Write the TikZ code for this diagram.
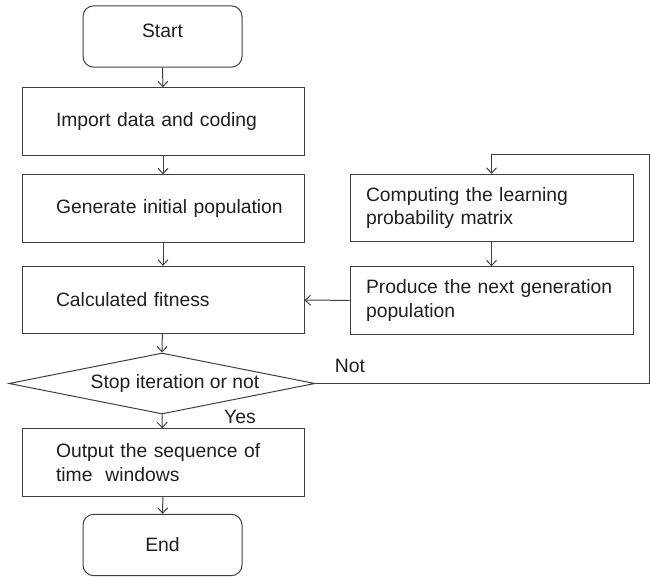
\documentclass[tikz,border=0pt]{standalone}
\usepackage{fontspec}
\setmainfont{Liberation Sans}
\usetikzlibrary{shapes.geometric,arrows.meta}
\definecolor{linegray}{HTML}{404040}
\definecolor{textgray}{HTML}{1E1E1E}
\begin{document}
\begin{tikzpicture}[x=0.75pt,y=-0.75pt,
  every node/.style={font=\fontsize{14.5}{17.5}\selectfont,text=textgray},
  flow/.style={draw=linegray,line width=.75pt},
  arr/.style={flow,-{Straight Barb[length=4pt,width=7.5pt]}},
  term/.style={flow,rectangle,rounded corners=8pt,minimum width=119.25pt,minimum height=46pt,inner sep=0pt},
  lbox/.style={flow,rectangle,minimum width=211.5pt,minimum height=50.5pt,inner xsep=4pt,text width=203.5pt,align=left,execute at begin node={\leftskip=21.5pt}},
  rbox/.style={flow,rectangle,minimum width=212.25pt,minimum height=50.5pt,inner xsep=4pt,text width=204.25pt,align=left,execute at begin node={\leftskip=8pt}},
  test/.style={flow,diamond,aspect=5,inner sep=0pt,minimum width=229.5pt,minimum height=45.75pt}]
\useasboundingbox (0,0) rectangle (651,577);
% main column
\node[term] (start) at (162.5,36.5) {\raisebox{4pt}[\height][\depth]{Start}};
\node[lbox] (import) at (163,121.5) {Import data and coding};
\node[lbox] (gen) at (163,208.5) {Generate initial population};
\node[lbox] (fit) at (163,300) {Calculated fitness};
\node[test] (stop) at (162,383.5) {\hspace*{19.5pt}Stop iteration or not};
\node[lbox] (out) at (163,462.5) {Output the sequence of\\time~ windows};
\node[term] (end) at (162.5,545) {End};
% loop column
\node[rbox] (learn) at (491.5,208) {Computing the learning\\probability matrix};
\node[rbox] (prod) at (491.5,300.5) {Produce the next generation\\population};
\node (yes) at (240,417) {Yes};
\node (not) at (350,366) {Not};
\coordinate (c1) at (649.5,383.5);
\coordinate (c2) at (649.5,155);
\draw[arr] (start) -- (import);
\draw[arr] (import) -- (gen);
\draw[arr] (gen) -- (fit);
\draw[arr] (fit) -- (stop.north);
\draw[arr] (stop.south) -- (out);
\draw[arr] (out) -- (end);
\draw[arr] (stop.east) -- (c1) -- (c2) -| (learn.north);
\draw[arr] (learn) -- (prod);
\draw[arr] (prod) -- (fit);
\end{tikzpicture}
\end{document}
